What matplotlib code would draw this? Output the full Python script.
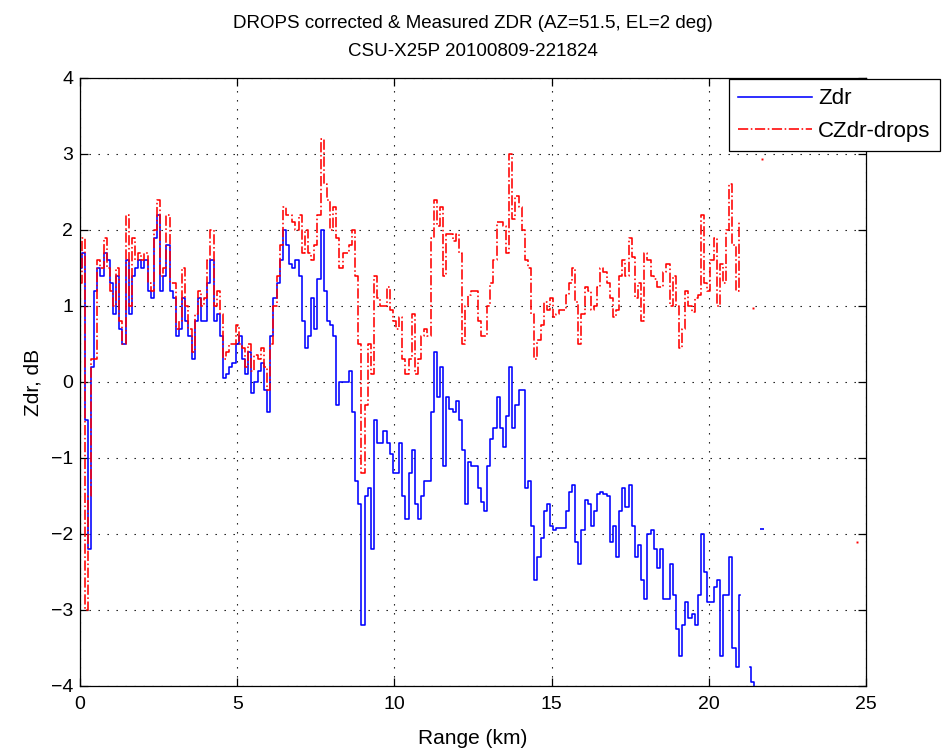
import numpy as np
import matplotlib
matplotlib.use("Agg")
import matplotlib.pyplot as plt

plt.rcParams['font.family'] = ['Liberation Sans', 'DejaVu Sans']

GATE_KM = 0.1

# Measured differential reflectivity (dB), one value per 0.1 km gate from 0 km
zdr = [
    1.5, 1.7, -0.5, -2.2, 0.2, 1.2, 1.5, 1.4, 1.7, 1.6,
    1.3, 0.9, 1.4, 0.7, 0.5, 1.6, 0.9, 1.4, 1.5, 1.6,
    1.5, 1.6, 1.2, 1.1, 1.9, 2.2, 1.2, 1.4, 1.8, 1.2,
    1.1, 0.6, 0.7, 1.1, 0.8, 0.6, 0.3, 0.8, 1.1, 0.8,
    0.8, 1.3, 1.6, 0.8, 0.9, 0.6, 0.05, 0.1, 0.2, 0.25,
    0.5, 0.6, 0.3, 0.1, 0.4, -0.15, 0.0, 0.15, 0.25, -0.1,
    -0.4, 0.6, 1.1, 1.3, 1.6, 2.0, 1.8, 1.55, 1.5, 1.6,
    1.4, 0.8, 0.45, 0.6, 1.1, 0.7, 1.35, 2.0, 1.2, 0.8,
    0.75, 0.6, -0.3, 0.0, 0.0, 0.0, 0.15, -0.4, -1.3, -1.6,
    -3.2, -1.5, -1.4, -2.2, -0.5, -0.8, -0.8, -0.65, -0.8, -0.95,
    -1.2, -1.2, -0.8, -1.5, -1.8, -1.2, -0.9, -1.6, -1.8, -1.5,
    -1.3, -1.3, -0.4, 0.4, -0.2, 0.2, -1.1, -0.2, -0.35, -0.4,
    -0.25, -0.5, -0.9, -1.6, -1.05, -1.1, -1.1, -1.4, -1.58, -1.7,
    -1.1, -0.75, -0.6, -0.2, -0.6, -0.85, -0.45, 0.2, -0.6, -0.3,
    -0.1, -0.1, -1.4, -1.3, -1.9, -2.6, -2.3, -2.05, -1.7, -1.6,
    -1.9, -1.95, -1.92, -1.92, -1.92, -1.7, -1.45, -1.35, -2.1, -2.4,
    -1.95, -1.55, -1.6, -1.9, -1.7, -1.47, -1.45, -1.47, -1.5, -2.1,
    -1.9, -2.3, -1.7, -1.4, -1.65, -1.35, -1.9, -2.3, -2.15, -2.6,
    -2.85, -2.0, -1.95, -2.2, -2.45, -2.2, -2.85, -2.85, -2.4, -2.8,
    -3.25, -3.6, -3.2, -2.9, -3.1, -3.05, -3.2, -2.8, -2.0, -2.5,
    -2.9, -2.9, -2.7, -2.6, -3.6, -2.8, -2.8, -2.3, -3.5, -3.75,
    -2.8,
]

# DROPS attenuation-corrected differential reflectivity (dB), same gates
czdr = [
    1.3, 1.9, -3.0, -1.5, 0.3, 0.3, 1.6, 1.5, 1.9, 1.5,
    1.2, 1.0, 1.5, 0.8, 0.5, 2.2, 1.0, 1.9, 1.6, 1.7,
    1.6, 1.7, 1.3, 1.2, 2.0, 2.4, 1.4, 1.5, 2.2, 1.3,
    1.3, 0.7, 0.8, 1.5, 1.0, 0.7, 0.4, 0.9, 1.2, 1.0,
    1.1, 1.6, 2.0, 1.0, 1.2, 0.9, 0.3, 0.4, 0.5, 0.5,
    0.75, 0.5, 0.45, 0.2, 0.5, 0.15, 0.35, 0.3, 0.45, 0.2,
    -0.1, 0.5, 1.0, 1.4, 1.8, 2.3, 2.2, 2.2, 2.1, 2.0,
    2.2, 1.7, 2.0, 1.7, 1.6, 1.8, 2.2, 3.2, 2.6, 2.4,
    2.0, 2.3, 1.9, 1.5, 1.7, 1.7, 1.8, 2.0, 1.4, 0.5,
    -1.2, -0.3, 0.5, 0.1, 1.4, 1.1, 1.0, 1.0, 1.25, 0.95,
    0.8, 0.7, 0.85, 0.3, 0.1, 0.3, 0.9, 0.1, 0.3, 0.6,
    0.7, 0.6, 1.9, 2.4, 2.05, 2.3, 1.4, 1.95, 1.95, 1.85,
    1.95, 1.7, 0.5, 1.0, 1.15, 1.2, 1.2, 0.8, 0.6, 0.6,
    1.0, 1.3, 1.6, 2.1, 2.1, 2.05, 1.7, 3.0, 2.15, 2.45,
    2.3, 2.0, 1.6, 1.5, 0.9, 0.3, 0.55, 0.75, 1.05, 0.95,
    1.1, 0.85, 0.9, 0.95, 0.95, 1.15, 1.3, 1.5, 1.05, 0.5,
    0.9, 1.25, 1.2, 0.95, 1.0, 1.25, 1.5, 1.45, 1.3, 1.1,
    0.85, 0.95, 1.4, 1.6, 1.4, 1.9, 1.65, 1.1, 1.3, 0.8,
    1.7, 1.6, 1.4, 1.35, 1.25, 1.25, 1.45, 1.55, 1.0, 1.4,
    1.0, 0.45, 0.7, 1.2, 1.0, 0.92, 1.1, 1.15, 2.2, 1.3,
    1.2, 1.6, 1.9, 1.0, 1.55, 1.3, 2.0, 2.6, 1.8, 1.2,
    2.1,
]

# Scattered far gates
zdr_tail_km = [21.3, 21.4, 21.5]
zdr_tail = [-3.75, -3.95, -4.1]
zdr_isolated_km = [21.7]
zdr_isolated = [-1.93]
czdr_isolated_km = [21.4, 21.7, 24.7]
czdr_isolated = [0.98, 2.93, -2.1]

range_zdr = np.arange(len(zdr)) * GATE_KM
range_czdr = np.arange(len(czdr)) * GATE_KM

fig = plt.figure(figsize=(9.45, 7.55), dpi=100, facecolor='white')
ax = fig.add_axes([80 / 945, 1 - 686 / 755, (866 - 80) / 945, (686 - 78) / 755])

blue = '#0000ff'
red = '#ff0000'
lw = 1.15

ax.plot(range_zdr, zdr, color=blue, lw=lw, drawstyle='steps-mid', label='Zdr')
ax.plot(range_czdr, czdr, color=red, lw=lw, ls='-.', drawstyle='steps-mid',
        label='CZdr-drops')
ax.plot(zdr_tail_km, zdr_tail, color=blue, lw=lw, drawstyle='steps-mid')
ax.plot(zdr_isolated_km, zdr_isolated, ls='none', marker='_', ms=3,
        mew=1.2, color=blue)
ax.plot(czdr_isolated_km, czdr_isolated, ls='none', marker='s', ms=1.4,
        mew=0, color=red)

ax.set_xlim(0, 25)
ax.set_ylim(-4, 4)
ax.set_xticks(np.arange(0, 26, 5))
ax.set_yticks(np.arange(-4, 5, 1))

ax.grid(True, color='black', linestyle=(0, (1.2, 6.9)), linewidth=0.8)
for s in ax.spines.values():
    s.set_linewidth(0.9)
    s.set_color('black')
ax.tick_params(direction='in', length=6, width=0.9, top=True, right=True,
               labelsize=14, colors='black')
ax.tick_params(axis='x', pad=7)
ax.tick_params(axis='y', pad=5)

ax.set_xlabel('Range (km)', fontsize=15, labelpad=12)
ax.set_ylabel('Zdr, dB', fontsize=15, labelpad=6)
ax.set_title('DROPS corrected & Measured ZDR (AZ=51.5, EL=2 deg)\n'
             'CSU-X25P 20100809-221824', fontsize=13.5, linespacing=1.8,
             pad=16)

leg = ax.legend(loc='upper left', bbox_to_anchor=(729 / 945, 1 - 79 / 755),
                bbox_transform=fig.transFigure, fontsize=16, frameon=True,
                fancybox=False, framealpha=1, edgecolor='black',
                handlelength=3.3, borderpad=0.42, labelspacing=0.52,
                handletextpad=0.3, borderaxespad=0)
leg.get_frame().set_linewidth(0.9)

fig.savefig('out.png', dpi=100, facecolor='white')
